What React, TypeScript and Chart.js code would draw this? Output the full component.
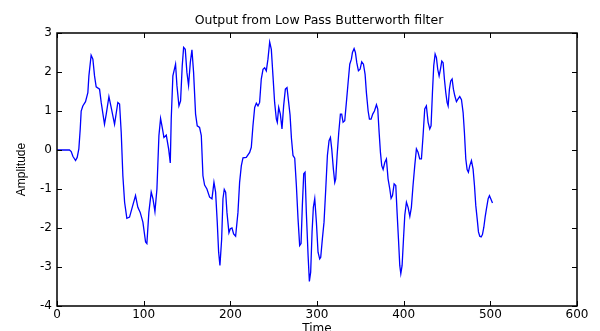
import React, { useEffect, useRef } from "react";
import { Chart, registerables } from "chart.js";

Chart.register(...registerables);

const chartTitle = "Output from Low Pass Butterworth filter";
const xAxisTitle = "Time";
const yAxisTitle = "Amplitude";

const xTicks = [0, 100, 200, 300, 400, 500, 600];
const yTicks = [-4, -3, -2, -1, 0, 1, 2, 3];

const timeValues = [
  0, 5, 10, 14.4, 16.4, 18.3, 21.4, 23.3, 25.2, 26.8, 27.9, 29.8, 32.9, 35.6, 36.8, 39.4, 41.4, 43.3, 45.2,
  49.1, 51, 54.8, 56.8, 59.9, 62.5, 66.4, 70.2, 72.2, 74.1, 76, 78, 80.6, 83.7, 86.8, 90.6, 93.3, 96, 99.1,
  102.2, 103.7, 106, 108.7, 110.7, 113, 115.3, 117.6, 119.5, 121.4, 123.4, 126.1, 128.8, 130.7,
  131.8, 133.7, 136.8, 138.4, 140.7, 142.6, 144.5, 146.1, 148, 149.9, 151.8, 153.8, 155.7, 157.6, 159.9,
  161.8, 164.5, 166.5, 168.4, 170.3, 173, 176.1, 178.8, 181.1, 183, 184.9, 186.5, 188, 190, 191.5, 193,
  194.6, 196.1, 198.4, 200, 201.9, 203.8, 206.1, 208.8, 210.7, 212.7, 214.6, 218.4, 222.3, 224.2, 226.1,
  228.1, 230, 231.9, 233.8, 235.7, 237.7, 239.6, 241.5, 243.4, 245.4, 247.3, 249.2, 251.1, 253.1, 254.2,
  255.8, 257.7, 259.6, 261.5, 263.5, 265.4, 267.3, 268.9, 270.5, 272.3, 274.3, 276.2, 278.1, 280, 281.6,
  283.1, 284.7, 286.2, 287.7, 289.7, 291.2, 292.7, 294.3, 295.8, 297.4, 299.3, 301.2, 303.1, 304.3, 306.2,
  308.1, 310.1, 312, 313.9, 315.5, 317, 318.9, 320.5, 321.6, 323.2, 325.1, 327, 328.5, 330.1, 332, 333.9,
  335.9, 337.8, 339.7, 340.9, 342.8, 344.3, 345.9, 347.8, 349.7, 351.6, 353.6, 355.5, 357, 359, 360.5,
  362.4, 364.3, 366.3, 368.6, 370.1, 371.7, 373.2, 374.7, 376.3, 378.2, 380.1, 382, 384, 385.5, 387.1,
  389, 390.9, 392.4, 394, 395.5, 396.7, 398.2, 399.8, 401.3, 403.2, 405.1, 407.1, 408.9, 410.8, 412.8,
  414.7, 416.6, 418.5, 420.5, 422.4, 424.3, 426.2, 428.2, 430.1, 431.6, 433.2, 434.7, 436.3, 437.8, 439.3,
  440.9, 442.4, 444, 445.5, 447, 448.6, 450.1, 451.3, 452.8, 454.3, 455.9, 457.4, 459, 460.9, 462.8,
  464.7, 466.7, 468.6, 470.1, 471.7, 473.2, 474.7, 476.3, 478.2, 480.1, 481.7, 483.2, 484.8, 486.3, 487.8,
  489.4, 490.9, 492.5, 494, 495.5, 497.5, 499, 500.5, 502.5,
];

const amplitudeValues = [
  0, 0, 0, 0, -0.04, -0.16, -0.27, -0.19, 0.03, 0.54, 1.0, 1.13, 1.24, 1.47, 1.9, 2.43, 2.33, 1.9, 1.62,
  1.56, 1.22, 0.66, 0.92, 1.37, 1.09, 0.66, 1.22, 1.18, 0.45, -0.66, -1.34, -1.75, -1.72, -1.47, -1.17,
  -1.47, -1.6, -1.85, -2.36, -2.4, -1.6, -1.08, -1.25, -1.58, -1.0, 0.37, 0.81, 0.58, 0.32, 0.38, 0.03,
  -0.33, 0.79, 1.9, 2.2, 1.65, 1.13, 1.26, 2.16, 2.63, 2.58, 1.99, 1.66, 2.24, 2.57, 1.99, 0.92, 0.62,
  0.58, 0.37, -0.66, -0.9, -1.0, -1.21, -1.25, -0.83, -1.08, -1.85, -2.62, -2.96, -2.28, -1.25, -1.01,
  -1.08, -1.6, -2.12, -2.02, -2.0, -2.15, -2.21, -1.6, -0.83, -0.4, -0.2, -0.19, -0.06, 0.07, 0.62, 1.09,
  1.2, 1.13, 1.22, 1.82, 2.07, 2.11, 2.03, 2.33, 2.77, 2.58, 1.9, 1.22, 0.79, 0.71, 1.09, 0.92, 0.54, 1.13,
  1.56, 1.6, 1.22, 0.9, 0.3, -0.14, -0.21, -0.91, -1.76, -2.45, -2.4, -1.42, -0.61, -0.57, -1.6, -2.7,
  -3.37, -3.13, -2.1, -1.47, -1.25, -1.85, -2.62, -2.79, -2.75, -2.28, -1.85, -1.0, -0.14, 0.24, 0.32, 0.03,
  -0.49, -0.83, -0.74, -0.14, 0.45, 0.92, 0.92, 0.71, 0.75, 1.22, 1.73, 2.2, 2.33, 2.5, 2.6, 2.5, 2.24,
  2.03, 2.07, 2.26, 2.2, 1.94, 1.47, 1.0, 0.79, 0.79, 0.92, 1.0, 1.16, 1.05, 0.45, -0.06, -0.4, -0.5,
  -0.32, -0.23, -0.74, -1.0, -1.24, -1.17, -0.87, -0.91, -1.6, -2.28, -2.96, -3.17, -2.96, -2.28, -1.67,
  -1.34, -1.47, -1.7, -1.47, -0.91, -0.4, 0.03, -0.06, -0.23, -0.23, 0.37, 1.05, 1.13, 0.71, 0.54, 0.62,
  1.47, 2.16, 2.46, 2.37, 2.07, 1.9, 2.07, 2.28, 2.24, 1.82, 1.47, 1.22, 1.13, 1.56, 1.77, 1.82, 1.56,
  1.39, 1.24, 1.31, 1.37, 1.29, 0.96, 0.45, -0.23, -0.5, -0.57, -0.4, -0.27, -0.49, -0.91, -1.42, -1.76,
  -2.1, -2.21, -2.23, -2.17, -1.98, -1.72, -1.51, -1.25, -1.17, -1.25, -1.36,
];

const W = 600;
const H = 345;
const PLOT_BOTTOM = 306;

const framePlugin = {
  id: "matlabFrame",
  afterDatasetsDraw(chart: any) {
    const { ctx, chartArea } = chart;
    const { left, right, top, bottom } = chartArea;
    const xs = chart.scales.x;
    const ys = chart.scales.y;
    const tl = 5;
    ctx.save();
    ctx.strokeStyle = "#000";
    ctx.lineWidth = 1.5;
    ctx.beginPath();
    ctx.rect(left, top, right - left, bottom - top);
    ctx.stroke();
    ctx.lineWidth = 1;
    ctx.beginPath();
    xs.ticks.forEach((t: any) => {
      const px = Math.round(xs.getPixelForValue(t.value)) + 0.5;
      ctx.moveTo(px, bottom);
      ctx.lineTo(px, bottom - tl);
      ctx.moveTo(px, top);
      ctx.lineTo(px, top + tl);
    });
    ys.ticks.forEach((t: any) => {
      const py = Math.round(ys.getPixelForValue(t.value)) + 0.5;
      ctx.moveTo(left, py);
      ctx.lineTo(left + tl, py);
      ctx.moveTo(right, py);
      ctx.lineTo(right - tl, py);
    });
    ctx.stroke();
    ctx.restore();
  },
};

export default function App() {
  const ref = useRef<HTMLCanvasElement | null>(null);

  useEffect(() => {
    const canvas = ref.current;
    if (!canvas) return;
    const tickFont = { family: "'DejaVu Sans', sans-serif", size: 12 };
    const chart = new Chart(canvas, {
      type: "line",
      data: {
        datasets: [
          {
            data: timeValues.map((t, i) => ({ x: t, y: amplitudeValues[i] })),
            borderColor: "#0000ff",
            borderWidth: 1.3,
            pointRadius: 0,
            tension: 0,
            fill: false,
          },
        ],
      },
      options: {
        animation: false,
        responsive: false,
        maintainAspectRatio: false,
        layout: { padding: { left: 38, right: 0, top: 0, bottom: 0 } },
        plugins: {
          legend: { display: false },
          tooltip: { enabled: false },
          title: {
            display: true,
            text: chartTitle,
            color: "#000",
            font: { family: "'DejaVu Sans', sans-serif", size: 12.5, weight: "normal", lineHeight: 1.2 },
            padding: { top: 13, bottom: 5 },
          },
        },
        scales: {
          x: {
            type: "linear",
            min: 0,
            max: 600,
            afterBuildTicks: (s: any) => {
              s.ticks = xTicks.map((v) => ({ value: v }));
            },
            afterFit: (s: any) => {
              s.height = H - PLOT_BOTTOM;
            },
            grid: { display: false, drawTicks: false },
            border: { display: false },
            ticks: { color: "#000", font: tickFont, padding: 2, maxRotation: 0, autoSkip: false },
            title: {
              display: true,
              text: xAxisTitle,
              color: "#000",
              font: { family: "'DejaVu Sans', sans-serif", size: 12 },
              padding: { top: 0, bottom: 8.8 },
            },
          },
          y: {
            type: "linear",
            min: -4,
            max: 3,
            afterBuildTicks: (s: any) => {
              s.ticks = yTicks.map((v) => ({ value: v }));
            },
            afterFit: (s: any) => {
              s.width = 19;
            },
            grid: { display: false, drawTicks: false },
            border: { display: false },
            ticks: { color: "#000", font: tickFont, padding: 5, autoSkip: false },
            title: {
              display: true,
              text: yAxisTitle,
              color: "#000",
              font: { family: "'Liberation Sans Narrow', 'Liberation Sans', sans-serif", size: 12 },
              padding: { top: -23.2, bottom: 0 },
            },
          },
          yR: {
            type: "linear",
            position: "right",
            display: true,
            grid: { display: false, drawTicks: false },
            border: { display: false },
            ticks: { display: false },
            afterFit: (s: any) => {
              s.width = 23;
            },
          },
        },
      } as any,
      plugins: [framePlugin],
    });
    return () => chart.destroy();
  }, []);

  return (
    <div style={{ position: "fixed", left: 0, top: 0, width: W, height: H, background: "#fff" }}>
      <canvas ref={ref} width={W} height={H} style={{ width: W, height: H, display: "block" }} />
    </div>
  );
}
